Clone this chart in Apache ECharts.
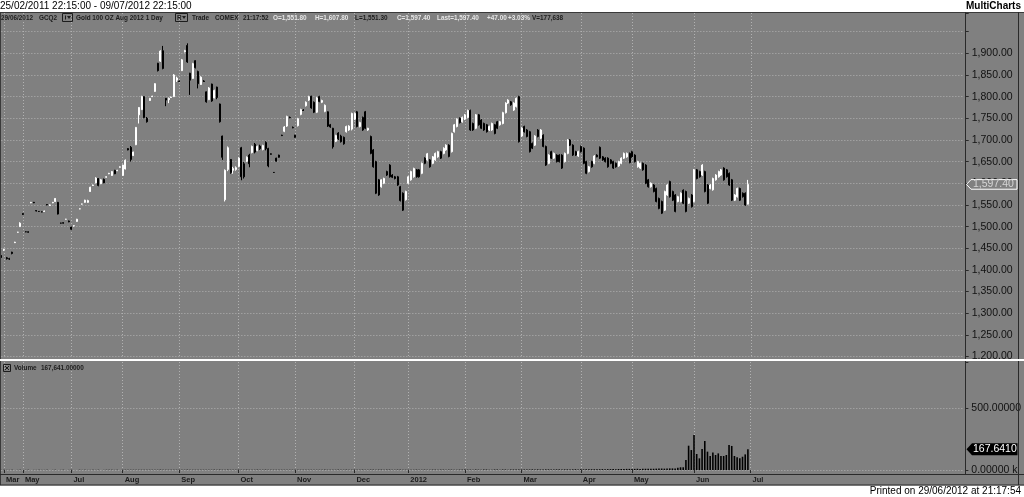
<!DOCTYPE html>
<html>
<head>
<meta charset="utf-8">
<script src="https://cdn.jsdelivr.net/npm/echarts@6/dist/echarts.min.js"></script>
<style>html,body{margin:0;padding:0;background:#fff;}#c{width:1024px;height:497px;}</style>
</head>
<body>
<div id="c"></div>
<script>
// ---- data ----
const monthLabels = ['Mar','May','Jul','Aug','Sep','Oct','Nov','Dec','2012','Feb','Mar','Apr','May','Jun','Jul'];
const monthStarts = [1,8,26,45,66,88,109,131,151,172,193,215,234,257,278];
const totalSlots = 358;
const priceTickLabels = ['1,200.00','1,250.00','1,300.00','1,350.00','1,400.00','1,450.00','1,500.00','1,550.00','1,600.00','1,650.00','1,700.00','1,750.00','1,800.00','1,850.00','1,900.00'];
const volumeTickLabels = ['0.00000 k','500.00000 k'];

const open = [
1432,1446,1428,1426,1441,1463,1487,1500,1530,1488,
1488,1555,1556,1537,1535,1534,1535,1551,1549,1555,
1558,1556,1508,1509,1517,1513,1499,1502,1512,1541,
1552,1556,1556,1581,1595,1601,1611,1599,1609,1614,
1622,1618,1630,1629,1637,1618,1633,1680,1683,1664,
1689,1758,1770,1800,1750,1791,1800,1812,1877,1882,
1906,1796,1793,1798,1800,1838,1836,1860,1904,1918,
1854,1842,1883,1858,1828,1836,1811,1793,1829,1797,
1822,1783,1709,1562,1632,1655,1630,1632,1639,1682,
1645,1651,1665,1671,1690,1676,1686,1678,1694,1680,
1668,1625,1658,1665,1711,1720,1732,1752,1729,1711,
1733,1759,1769,1779,1792,1801,1787,1764,1800,1787,
1766,1765,1735,1727,1697,1716,1709,1706,1719,1723,
1725,1748,1765,1731,1752,1765,1723,1708,1677,1650,
1608,1592,1600,1627,1642,1619,1615,1615,1592,1577,
1562,1600,1608,1615,1631,1631,1623,1658,1654,1654,
1646,1654,1661,1673,1669,1677,1688,1673,1719,1731,
1750,1742,1748,1752,1768,1738,1727,1758,1746,1738,
1735,1723,1723,1735,1742,1735,1738,1763,1785,1788,
1769,1777,1800,1709,1731,1723,1719,1692,1688,1723,
1704,1711,1685,1646,1673,1658,1665,1665,1665,1650,
1669,1700,1688,1673,1663,1685,1681,1650,1627,1650,
1646,1665,1683,1661,1658,1658,1654,1650,1646,1640,
1646,1658,1661,1669,1673,1665,1638,1635,1646,1642,
1608,1592,1596,1588,1565,1558,1538,1573,1604,1581,
1573,1558,1558,1584,1581,1554,1573,1558,1631,1627,
1619,1627,1596,1588,1585,1608,1615,1619,1635,1631,
1623,1608,1561,1569,1588,1577,1577,1551.8
];
const high = [
1434,1449,1430,1428,1442,1465,1488,1510,1531,1489,
1489,1557,1557,1538,1536,1535,1537,1552,1551,1557,
1566,1557,1509,1510,1518,1514,1500,1503,1518,1542,
1553,1562,1562,1592,1597,1614,1612,1610,1611,1616,
1624,1628,1631,1631,1639,1643,1655,1681,1686,1673,
1730,1776,1802,1801,1753,1797,1802,1831,1878,1907,
1917,1797,1798,1800,1852,1846,1837,1887,1908,1923,
1855,1878,1884,1860,1847,1838,1812,1822,1830,1816,
1823,1784,1710,1632,1685,1656,1638,1639,1660,1684,
1649,1662,1668,1687,1693,1687,1689,1689,1697,1682,
1669,1626,1659,1666,1712,1732,1756,1754,1731,1712,
1751,1772,1771,1789,1802,1802,1789,1799,1802,1793,
1782,1766,1737,1728,1712,1718,1712,1708,1733,1734,
1763,1763,1767,1742,1754,1767,1728,1710,1679,1652,
1610,1609,1613,1629,1644,1621,1617,1617,1594,1579,
1583,1617,1629,1636,1633,1633,1648,1660,1670,1656,
1663,1671,1675,1675,1683,1690,1690,1717,1737,1750,
1752,1754,1760,1770,1770,1740,1760,1760,1748,1740,
1737,1733,1740,1737,1744,1744,1765,1787,1794,1790,
1787,1798,1802,1729,1733,1725,1721,1694,1711,1725,
1725,1713,1687,1667,1675,1671,1667,1667,1667,1671,
1702,1702,1690,1675,1675,1687,1683,1652,1640,1652,
1665,1667,1685,1663,1660,1660,1656,1652,1648,1652,
1660,1671,1671,1671,1675,1667,1652,1648,1648,1644,
1610,1602,1598,1590,1567,1560,1583,1598,1606,1583,
1575,1571,1579,1586,1583,1567,1575,1633,1633,1629,
1644,1629,1598,1598,1613,1621,1629,1633,1637,1633,
1625,1610,1575,1590,1590,1579,1579,1607.8
];
const low = [
1428,1444,1424,1423,1436,1462,1486,1499,1527,1487,
1486,1554,1554,1535,1534,1533,1534,1549,1548,1554,
1557,1528,1507,1507,1516,1510,1492,1500,1511,1540,
1551,1555,1555,1580,1594,1600,1593,1598,1600,1613,
1621,1617,1621,1628,1636,1617,1632,1676,1650,1663,
1688,1738,1769,1750,1740,1790,1799,1811,1858,1880,
1863,1778,1785,1797,1799,1834,1834,1859,1902,1878,
1804,1841,1865,1819,1827,1834,1786,1792,1788,1796,
1794,1740,1654,1558,1628,1622,1622,1629,1637,1607,
1611,1649,1637,1669,1669,1674,1677,1676,1676,1637,
1666,1624,1650,1659,1709,1718,1730,1750,1727,1705,
1731,1757,1767,1777,1790,1772,1762,1762,1787,1785,
1764,1730,1728,1680,1695,1700,1694,1689,1717,1721,
1722,1746,1729,1729,1721,1725,1721,1667,1636,1575,
1571,1590,1598,1617,1613,1612,1609,1594,1558,1536,
1560,1598,1606,1613,1613,1613,1621,1644,1652,1636,
1644,1652,1659,1656,1667,1675,1660,1671,1717,1729,
1738,1740,1746,1750,1721,1721,1725,1733,1725,1721,
1717,1721,1721,1713,1725,1733,1736,1761,1783,1779,
1767,1775,1694,1707,1717,1706,1671,1679,1686,1706,
1702,1683,1640,1644,1656,1656,1648,1648,1633,1648,
1667,1686,1663,1663,1661,1671,1644,1621,1625,1636,
1644,1660,1656,1652,1648,1636,1644,1633,1636,1638,
1644,1656,1659,1646,1659,1648,1636,1633,1629,1598,
1590,1590,1579,1556,1540,1529,1536,1571,1567,1559,
1533,1556,1556,1552,1533,1552,1544,1556,1609,1613,
1617,1579,1552,1586,1583,1606,1613,1617,1606,1613,
1594,1559,1559,1567,1559,1567,1548,1551.3
];
const close = [
1430,1447,1426,1425,1438,1464,1487,1508,1528,1488,
1487,1556,1555,1536,1535,1534,1536,1550,1550,1556,
1565,1529,1508,1508,1517,1511,1494,1502,1517,1541,
1552,1561,1560,1591,1596,1612,1595,1608,1601,1615,
1623,1627,1622,1630,1638,1642,1653,1677,1655,1672,
1729,1775,1800,1752,1742,1796,1801,1830,1860,1905,
1865,1792,1796,1799,1850,1843,1835,1885,1906,1880,
1838,1876,1867,1830,1845,1835,1788,1820,1790,1814,
1798,1742,1660,1630,1682,1625,1634,1636,1658,1615,
1615,1660,1645,1685,1672,1685,1680,1687,1680,1640,
1667,1625,1651,1660,1710,1730,1754,1751,1728,1706,
1749,1770,1768,1787,1800,1774,1764,1797,1789,1791,
1780,1732,1730,1684,1710,1703,1696,1691,1731,1732,
1761,1761,1731,1740,1723,1727,1727,1669,1638,1577,
1573,1608,1611,1619,1615,1614,1611,1596,1560,1538,
1581,1615,1627,1634,1615,1615,1646,1646,1668,1638,
1661,1669,1673,1658,1681,1688,1662,1715,1735,1748,
1740,1752,1758,1768,1723,1723,1758,1735,1727,1723,
1719,1731,1738,1715,1727,1742,1763,1785,1792,1781,
1785,1796,1696,1727,1719,1708,1673,1681,1709,1708,
1723,1685,1642,1665,1658,1669,1650,1650,1635,1669,
1700,1688,1665,1665,1673,1673,1646,1623,1638,1638,
1663,1661,1658,1654,1650,1638,1646,1635,1638,1650,
1658,1669,1669,1648,1661,1650,1650,1646,1631,1600,
1592,1600,1581,1558,1542,1531,1581,1596,1569,1561,
1535,1569,1577,1554,1535,1565,1546,1631,1611,1615,
1642,1581,1554,1596,1611,1619,1627,1631,1608,1615,
1596,1561,1573,1588,1561,1569,1550,1597.4
];
// volume in thousands of contracts
const volume = [
1,2,1,1,2,1,1,2,1,1,2,1,1,1,2,1,1,2,1,1,
2,1,1,2,1,1,2,1,1,2,1,2,1,1,2,1,2,1,1,2,
2,2,1,2,1,2,2,3,2,2,3,3,2,2,3,2,2,3,2,3,
3,2,2,2,3,2,2,3,2,3,2,2,2,3,2,2,3,2,2,3,
3,3,2,3,3,2,2,2,3,2,2,3,2,2,2,3,2,2,3,2,
2,2,2,3,2,2,3,2,2,2,3,2,2,3,2,2,3,2,2,3,
3,2,2,3,2,3,2,2,3,2,2,3,2,2,3,2,2,3,3,3,
3,3,2,3,3,3,2,3,3,3,2,2,3,2,3,3,2,3,3,2,
3,3,2,3,3,3,3,3,3,3,3,3,4,3,3,3,4,3,3,4,
4,3,3,4,4,3,4,4,3,4,4,4,5,4,4,4,4,5,4,5,
4,4,5,5,4,5,5,5,4,5,5,5,5,6,5,6,5,6,6,6,
6,7,6,7,6,7,7,8,7,8,8,8,9,9,8,9,10,9,10,10,
10,11,10,11,12,12,11,12,13,13,
13,19,22,22,81,196,161,282,129,94,
169,234,148,113,142,121,134,113,113,121,
202,194,113,102,94,107,126,167.641
];
const lastPrice = 1597.4;
const lastVolume = 167.641;

// ---- helpers ----
const FONT = '"Liberation Sans", Arial, sans-serif';
const GRID_COLOR = '#b2b2b2';
const monthSet = new Set(monthStarts);
const labelMap = {};
monthStarts.forEach((s, i) => { labelMap[s] = monthLabels[i]; });
const categories = [];
for (let i = 0; i < totalSlots; i++) categories.push('b' + i);
const candles = open.map((o, i) => [o, close[i], low[i], high[i]]);
const priceLabelFor = v => { const k = Math.round((v - 1200) / 50); return (k >= 0 && k < priceTickLabels.length && Math.abs(v - (1200 + k * 50)) < 1e-6) ? priceTickLabels[k] : ''; };
const volLabelFor = v => v === 0 ? volumeTickLabels[0] : (v === 500 ? volumeTickLabels[1] : '');
const isMonth = (idx) => monthSet.has(idx);

const gridLeft = 1.35, gridWidth = 962.5;
const splitStyle = { color: GRID_COLOR, type: [1, 2], width: 1 };

const chart = echarts.init(document.getElementById('c'), null, { renderer: 'canvas' });
chart.setOption({
  backgroundColor: '#808080',
  animation: false,
  grid: [
    { left: gridLeft, width: gridWidth, top: 13, height: 343.6 },
    { left: gridLeft, width: gridWidth, top: 362, height: 108 }
  ],
  xAxis: [
    { type: 'category', gridIndex: 0, data: categories, boundaryGap: false,
      axisLine: { show: false }, axisTick: { show: false }, axisLabel: { show: false },
      splitLine: { show: true, interval: isMonth, lineStyle: splitStyle } },
    { type: 'category', gridIndex: 1, data: categories, boundaryGap: false, offset: 4,
      axisLine: { show: false },
      axisTick: { show: true, interval: isMonth, length: 3, lineStyle: { color: '#2a2a2a' } },
      axisLabel: { show: true, interval: isMonth, formatter: (v, i) => labelMap[i] || '',
        align: 'left', margin: 2, padding: [0, 0, 0, 2], color: '#1a1a1a', fontSize: 7.5, fontWeight: 'bold', fontFamily: FONT },
      splitLine: { show: true, interval: isMonth, lineStyle: splitStyle } }
  ],
  yAxis: [
    { type: 'value', gridIndex: 0, position: 'right', offset: 1.85, min: 1200, max: 1993, interval: 50,
      axisLine: { show: false },
      axisTick: { show: true, length: 3, lineStyle: { color: '#2a2a2a' } },
      axisLabel: { margin: 6, formatter: priceLabelFor, color: '#111', fontSize: 10.5, fontFamily: FONT, align: 'left' },
      splitLine: { show: true, showMaxLine: false, lineStyle: splitStyle } },
    { type: 'value', gridIndex: 1, position: 'right', offset: 1.85, min: 0, max: 871, interval: 500,
      axisLine: { show: false },
      axisTick: { show: true, length: 3, lineStyle: { color: '#2a2a2a' } },
      axisLabel: { margin: 6, formatter: volLabelFor, color: '#111', fontSize: 10.5, fontFamily: FONT, align: 'left',
        width: 53, overflow: 'truncate', ellipsis: '' },
      splitLine: { show: true, showMaxLine: false, lineStyle: splitStyle } }
  ],
  series: [
    { type: 'candlestick', xAxisIndex: 0, yAxisIndex: 0, data: candles, barWidth: 1.5,
      itemStyle: { color: '#ffffff', color0: '#000000', borderColor: '#ffffff', borderColor0: '#000000', borderWidth: 1 } },
    { type: 'bar', xAxisIndex: 1, yAxisIndex: 1, data: volume, barWidth: 1.6,
      itemStyle: { color: '#000000' } }
  ]
});

const py = chart.convertToPixel({ yAxisIndex: 0 }, lastPrice);
const vy = chart.convertToPixel({ yAxisIndex: 1 }, lastVolume);

const dark = '#1c1c1c', light = '#e6e6e6';
const hdrFont = 'bold 8px ' + FONT;
const hdrScale = 0.8;
const hdrY = 17.5;
const headerItems = [
  ['29/06/2012', 1, dark], ['GCQ2', 39, dark], ['Gold 100 OZ Aug 2012 1 Day', 76, dark],
  ['Trade', 192, dark], ['COMEX', 215, dark], ['21:17:52', 243, dark],
  ['O=1,551.80', 273, light], ['H=1,607.80', 315, light], ['L=1,551.30', 355, dark],
  ['C=1,597.40', 397, light], ['Last=1,597.40', 437, light], ['+47.00', 487, light],
  ['+3.03%', 508, light], ['V=177,638', 532, dark]
];
const g = [];
const txt = (t, x, y, font, fill, extra) => Object.assign({ type: 'text', x: x, y: y, style: { text: t, font: font, fill: fill, verticalAlign: 'middle' }, z: 102 }, extra || {});
// white title and footer strips
g.push({ type: 'rect', shape: { x: 0, y: 0, width: 1024, height: 12 }, style: { fill: '#ffffff' }, z: 100 });
g.push({ type: 'rect', shape: { x: 0, y: 485.5, width: 1024, height: 12 }, style: { fill: '#ffffff' }, z: 100 });
// frame lines
const ln = (x1, y1, x2, y2, c, w) => ({ type: 'line', shape: { x1, y1, x2, y2 }, style: { stroke: c, lineWidth: w || 1 }, z: 101 });
g.push(ln(0, 12.5, 1024, 12.5, '#3a3a3a'));
g.push(ln(0.5, 12, 0.5, 485, '#3a3a3a'));
g.push(ln(965.5, 12, 965.5, 474, '#2a2a2a'));
g.push(ln(1018.5, 12, 1018.5, 485, '#2a2a2a'));
g.push(ln(0, 474.5, 1024, 474.5, '#2a2a2a'));
g.push(ln(0, 485, 1024, 485, '#2a2a2a'));
g.push({ type: 'rect', shape: { x: 0, y: 359, width: 1024, height: 2 }, style: { fill: '#ffffff' }, z: 101 });
// title / brand / footer
g.push(txt('25/02/2011 22:15:00 - 09/07/2012 22:15:00', 0, 6, '10px ' + FONT, '#000'));
g.push({ type: 'text', x: 1021, y: 6, style: { text: 'MultiCharts', font: 'bold 10px ' + FONT, fill: '#000', align: 'right', verticalAlign: 'middle' }, z: 102 });
g.push({ type: 'text', x: 1021, y: 491, style: { text: 'Printed on 29/06/2012 at 21:17:54', font: '10px ' + FONT, fill: '#000', align: 'right', verticalAlign: 'middle' }, z: 102 });
// header status line
headerItems.forEach(([t, x, c]) => g.push(txt(t, x, hdrY, hdrFont, c, { scaleX: hdrScale })));
g.push({ type: 'rect', shape: { x: 62.5, y: 13.5, width: 10, height: 8 }, style: { fill: 'none', stroke: dark, lineWidth: 1 }, z: 102 });
g.push(ln(65.5, 15.5, 65.5, 19.5, dark));
g.push({ type: 'polygon', shape: { points: [[67, 16], [71, 16], [69, 19]] }, style: { fill: dark }, z: 102 });
g.push({ type: 'rect', shape: { x: 175.5, y: 13.5, width: 12, height: 8 }, style: { fill: 'none', stroke: dark, lineWidth: 1 }, z: 102 });
g.push(txt('R', 177, hdrY, hdrFont, dark, { scaleX: hdrScale }));
g.push({ type: 'polygon', shape: { points: [[182, 16], [186, 16], [184, 19]] }, style: { fill: dark }, z: 102 });
// volume pane caption
g.push({ type: 'rect', shape: { x: 3.5, y: 364.5, width: 7, height: 7 }, style: { fill: 'none', stroke: dark, lineWidth: 1 }, z: 102 });
g.push(ln(5, 366, 9, 370, dark));
g.push(ln(9, 366, 5, 370, dark));
g.push(txt('Volume', 14, 368, hdrFont, dark, { scaleX: hdrScale }));
g.push(txt('167,641.00000', 41, 368, hdrFont, dark, { scaleX: hdrScale }));
// last price marker
g.push({ type: 'polygon', shape: { points: [[966.5, py], [971, py - 4.8], [1017, py - 4.8], [1017, py + 4.8], [971, py + 4.8]] },
  style: { fill: '#808080', stroke: '#ffffff', lineWidth: 1 }, z: 103 });
g.push(txt('1,597.40', 973, py, '10.5px ' + FONT, '#d4d4d4', { z: 104 }));
// last volume marker
g.push({ type: 'polygon', shape: { points: [[966.5, vy], [972, vy - 6], [1017.5, vy - 6], [1017.5, vy + 6], [972, vy + 6]] },
  style: { fill: '#000000' }, z: 103 });
g.push(txt('167.6410', 973, vy, '10.5px ' + FONT, '#ffffff', { z: 104 }));

chart.setOption({ graphic: { elements: g } });
</script>
</body>
</html>
